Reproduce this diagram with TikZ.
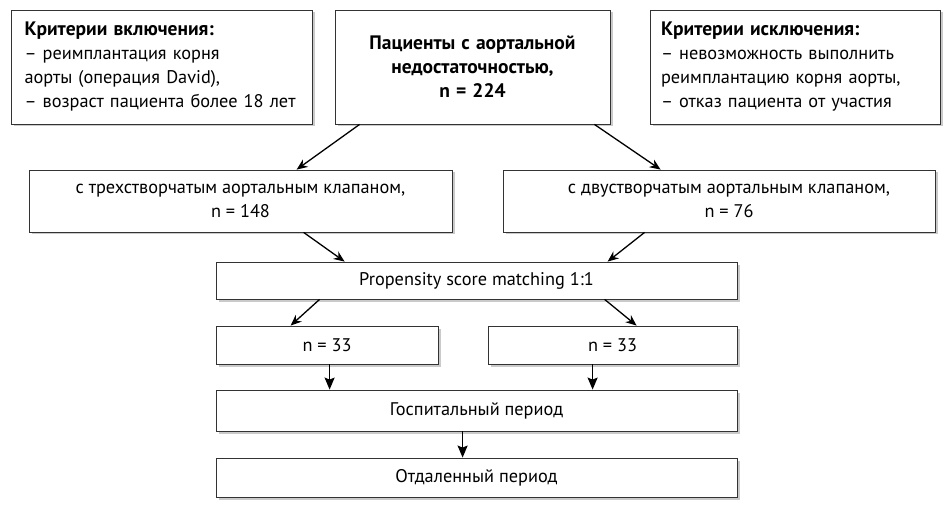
\documentclass[tikz,border=0pt]{standalone}
\usepackage{fontspec}
\setmainfont{PT Sans}
\usetikzlibrary{arrows.meta,shadows}
\newcommand{\bigbf}[1]{{\fontsize{19.5}{24}\selectfont\bfseries #1}}
\tikzset{
  box/.style={draw=black!80, line width=0.8pt, fill=white, inner sep=0pt,
    drop shadow={shadow xshift=2.5pt, shadow yshift=-2.5pt, fill=black!35, opacity=0.6},
    font=\fontsize{18.3}{24}\selectfont},
  arr/.style={-{Stealth[length=11pt,width=9pt]}, line width=1.3pt},
  varr/.style={-{Stealth[length=12pt,width=10pt,inset=2pt]}, line width=1.4pt}
}
\begin{document}
\begin{tikzpicture}[x=1pt,y=-1pt]
\useasboundingbox (0,0) rectangle (945,513);
% top row
\node[box, minimum width=301pt, minimum height=114pt, text width=275pt, align=left] (inc) at (162,67)
  {\bigbf{Критерии включения:}\\– реимплантация корня\\аорты (операция David),\\– возраст пациента более 18 лет};
\node[box, minimum width=275pt, minimum height=114pt, text width=265pt, align=center] (pat) at (472.5,67)
  {\bigbf{Пациенты с аортальной}\\\bigbf{недостаточностью,}\\\bigbf{n = 224}};
\node[box, minimum width=290pt, minimum height=114pt, text width=268pt, align=left] (exc) at (795,67)
  {\bigbf{Критерии исключения:}\\– невозможность выполнить\\реимплантацию корня аорты,\\– отказ пациента от участия};
% second row
\node[box, minimum width=423pt, minimum height=62pt, align=center] (tri) at (240.5,201)
  {с трехстворчатым аортальным клапаном,\\n = 148};
\node[box, minimum width=432pt, minimum height=62pt, align=center] (bic) at (719,201)
  {\hspace*{20pt}с двустворчатым аортальным клапаном,\\\hspace*{20pt}n = 76};
% psm
\node[box, minimum width=521pt, minimum height=37pt] (psm) at (476.5,280.5) {Propensity score matching 1:1};
\node[box, minimum width=222pt, minimum height=38pt] (l33) at (327,345) {n = 33};
\node[box, minimum width=249pt, minimum height=38pt] (r33) at (612.5,345) {n = 33};
\node[box, minimum width=521pt, minimum height=41pt] (hos) at (476.5,410.5) {Госпитальный период};
\node[box, minimum width=521pt, minimum height=39pt] (rem) at (476.5,477.5) {Отдаленный период};
% arrows
\draw[arr] ([xshift=25pt]pat.south west) -- ([xshift=268pt]tri.north west);
\draw[arr] ([xshift=-16pt]pat.south east) -- ([xshift=158pt]bic.north west);
\draw[arr] ([xshift=275pt]tri.south west) -- ([xshift=129pt]psm.north west);
\draw[arr] ([xshift=142pt]bic.south west) -- ([xshift=392pt]psm.north west);
\draw[arr] ([xshift=104pt]psm.south west) -- ([xshift=75pt]l33.north west);
\draw[arr] ([xshift=389pt]psm.south west) -- ([xshift=149pt]r33.north west);
\draw[varr] ([xshift=114pt]l33.south west) -- ([xshift=114pt]hos.north west);
\draw[varr] ([xshift=105pt]r33.south west) -- ([xshift=377pt]hos.north west);
\draw[varr] ([xshift=247pt]hos.south west) -- ([xshift=247pt]rem.north west);
\end{tikzpicture}
\end{document}
